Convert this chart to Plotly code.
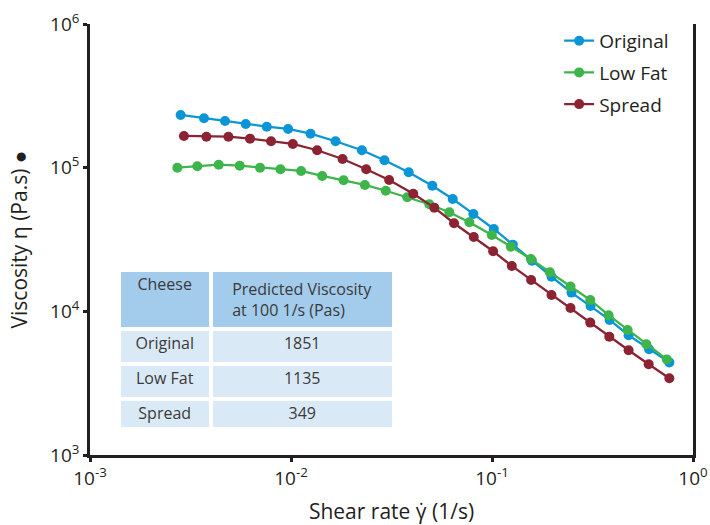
import plotly.graph_objects as go

# ---------------- data ----------------
orig_x = [0.002825, 0.003690, 0.004696, 0.005955, 0.007575, 0.009674, 0.01251, 0.01666,
          0.02253, 0.02917, 0.03850, 0.05047, 0.06377, 0.08078, 0.1021, 0.1269, 0.1579,
          0.1977, 0.2486, 0.3092, 0.3846, 0.4782, 0.6045, 0.7626]
orig_y = [232700, 220700, 211300, 201400, 192900, 185900, 172400, 152700, 132200, 112600,
          92900, 74940, 60570, 47630, 37450, 29120, 22540, 17440, 13500, 10900, 8713,
          6818, 5448, 4411]

low_x = [0.002720, 0.003420, 0.004368, 0.005557, 0.007015, 0.008865, 0.01123, 0.01429,
         0.01826, 0.02331, 0.02961, 0.03789, 0.04877, 0.06132, 0.07716, 0.09977, 0.1241,
         0.1561, 0.1941, 0.2458, 0.3082, 0.3802, 0.4728, 0.5859, 0.7413]
low_y = [100000, 102300, 104900, 103250, 100000, 97480, 94840, 87540, 81740, 75790,
         69060, 62230, 55640, 48940, 41690, 34020, 28200, 23160, 18720, 14860, 12000,
         9396, 7423, 5903, 4628]

spread_x = [0.002934, 0.003793, 0.004882, 0.006254, 0.007958, 0.01021, 0.01349, 0.01805,
            0.02367, 0.03078, 0.04058, 0.05164, 0.06474, 0.08115, 0.1013, 0.1255, 0.1566,
            0.1977, 0.2458, 0.3082, 0.3833, 0.4782, 0.6017, 0.7626]
spread_y = [166200, 164300, 164300, 159200, 152700, 146200, 132200, 114990, 97480, 82130,
            65820, 52680, 41040, 32940, 26200, 20700, 16540, 13010, 10560, 8346, 6666,
            5361, 4285, 3422]

table_cheese = ["Original", "Low Fat", "Spread"]
table_pred = ["1851", "1135", "349"]
table_header = ["Cheese", "Predicted Viscosity<br>at 100 1/s (Pas)"]

x_tickvals = [1e-3, 1e-2, 1e-1, 1e0]
x_ticktext = ["10<sup>-3</sup>", "10<sup>-2</sup>", "10<sup>-1</sup>", "10<sup>0</sup>"]
y_tickvals = [1e3, 1e4, 1e5, 1e6]
y_ticktext = ["10<sup>3</sup>", "10<sup>4</sup>", "10<sup>5</sup>", "10<sup>6</sup>"]

FONT = "Open Sans"
TXT = "#231f20"

fig = go.Figure()

series = [
    ("Original", orig_x, orig_y, "#0a96d6"),
    ("Low Fat", low_x, low_y, "#3db54a"),
    ("Spread", spread_x, spread_y, "#8b2332"),
]
for name, xs, ys, col in series:
    fig.add_trace(go.Scatter(
        x=xs, y=ys, name=name, mode="lines+markers",
        line=dict(color=col, width=2.3),
        marker=dict(color=col, size=10),
        legendgroup=name,
    ))

fig.add_trace(go.Table(
    domain=dict(x=[0.0473, 0.504], y=[0.0643, 0.4292]),
    columnwidth=[90, 178],
    header=dict(
        values=table_header,
        fill_color="#a3cbeb",
        line=dict(color="white", width=4),
        font=dict(family=FONT, size=16, color="#3a3a3a"),
        align="center",
        height=53,
    ),
    cells=dict(
        values=[table_cheese, table_pred],
        fill_color="#dae9f6",
        line=dict(color="white", width=4),
        font=dict(family=FONT, size=16, color="#3a3a3a"),
        align="center",
        height=35,
    ),
))

fig.update_layout(
    width=710, height=525,
    margin=dict(l=90, r=17, t=24, b=70, autoexpand=False),
    paper_bgcolor="white", plot_bgcolor="white",
    font=dict(family=FONT, color=TXT, size=19),
    showlegend=True,
    legend=dict(
        x=0.778, y=1.005, xanchor="left", yanchor="top",
        font=dict(family=FONT, size=19, color=TXT),
        tracegroupgap=4, bgcolor="rgba(0,0,0,0)",
    ),
)
fig.update_xaxes(
    type="log", range=[-3, 0], automargin=False,
    tickvals=x_tickvals, ticktext=x_ticktext,
    showgrid=False, zeroline=False,
    showline=True, linecolor=TXT, linewidth=2.5,
    ticks="outside", ticklen=4, tickwidth=3, tickcolor=TXT,
    tickfont=dict(family=FONT, size=19, color=TXT),
    title=dict(text="Shear rate γ̇ (1/s)", font=dict(family=FONT, size=21, color=TXT), standoff=22),
)
fig.update_yaxes(
    type="log", range=[3, 6], automargin=False,
    tickvals=y_tickvals, ticktext=y_ticktext,
    showgrid=False, zeroline=False,
    showline=True, linecolor=TXT, linewidth=2.5, mirror=True,
    ticks="outside", ticklen=4, tickwidth=3, tickcolor=TXT,
    tickfont=dict(family=FONT, size=19, color=TXT),
    title=dict(text="Viscosity η (Pa.s) ●", font=dict(family=FONT, size=21, color=TXT), standoff=17),
)

fig.write_html("out.html")
